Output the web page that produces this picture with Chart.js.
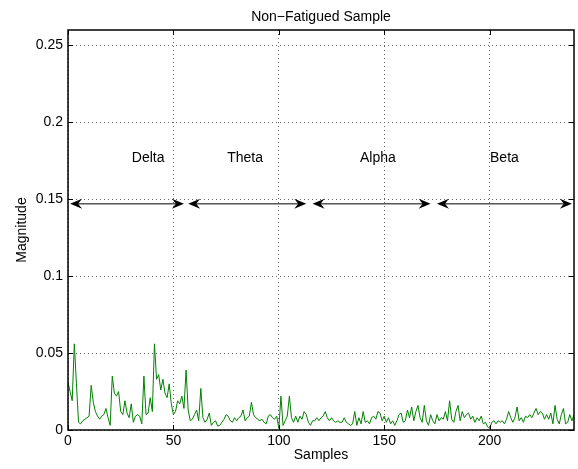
<!DOCTYPE html>
<html>
<head>
<meta charset="utf-8">
<title>Non-Fatigued Sample</title>
<script src="https://cdn.jsdelivr.net/npm/chart.js@4.4.0/dist/chart.umd.min.js"></script>
<style>
html, body { margin: 0; padding: 0; background: #fff; }
#wrap { position: relative; width: 578px; height: 469px; }
</style>
</head>
<body>
<div id="wrap"><canvas id="myChart" width="578" height="469"></canvas></div>
<script>
// magnitude per sample (sample 0 .. 240)
const samples = [
	0.031, 0.025, 0.019, 0.056, 0.030, 0.005, 0.004, 0.006, 0.007, 0.008,
	0.009, 0.029, 0.018, 0.012, 0.009, 0.007, 0.009, 0.010, 0.014, 0.008,
	0.003, 0.035, 0.024, 0.022, 0.025, 0.012, 0.010, 0.019, 0.011, 0.008,
	0.017, 0.005, 0.009, 0.010, 0.009, 0.004, 0.035, 0.010, 0.011, 0.021,
	0.012, 0.056, 0.033, 0.036, 0.026, 0.033, 0.024, 0.021, 0.030, 0.017,
	0.010, 0.012, 0.019, 0.017, 0.022, 0.014, 0.039, 0.013, 0.006, 0.007,
	0.010, 0.013, 0.006, 0.027, 0.008, 0.005, 0.007, 0.011, 0.003, 0.005,
	0.006, 0.0025, 0.003, 0.005, 0.007, 0.010, 0.009, 0.006, 0.005, 0.008,
	0.006, 0.008, 0.009, 0.013, 0.006, 0.008, 0.009, 0.018, 0.010, 0.008,
	0.007, 0.006, 0.007, 0.005, 0.004, 0.009, 0.010, 0.008, 0.007, 0.009,
	0.001, 0.022, 0.003, 0.006, 0.009, 0.022, 0.008, 0.005, 0.009, 0.005,
	0.009, 0.007, 0.012, 0.010, 0.005, 0.003, 0.006, 0.006, 0.008, 0.006,
	0.008, 0.009, 0.012, 0.008, 0.006, 0.008, 0.006, 0.005, 0.006, 0.005,
	0.005, 0.008, 0.005, 0.004, 0.003, 0.004, 0.012, 0.003, 0.008, 0.004,
	0.012, 0.005, 0.006, 0.004, 0.008, 0.009, 0.007, 0.012, 0.011, 0.006,
	0.009, 0.005, 0.008, 0.004, 0.006, 0.003, 0.006, 0.010, 0.011, 0.005,
	0.006, 0.013, 0.008, 0.015, 0.006, 0.012, 0.016, 0.008, 0.005, 0.016,
	0.006, 0.003, 0.010, 0.006, 0.004, 0.010, 0.006, 0.008, 0.007, 0.012,
	0.006, 0.019, 0.007, 0.005, 0.012, 0.016, 0.006, 0.012, 0.008, 0.010,
	0.011, 0.007, 0.009, 0.005, 0.008, 0.006, 0.009, 0.004, 0.005, 0.002,
	0.001, 0.005, 0.006, 0.004, 0.006, 0.005, 0.006, 0.004, 0.007, 0.012,
	0.008, 0.005, 0.008, 0.015, 0.006, 0.008, 0.005, 0.009, 0.008, 0.010,
	0.008, 0.011, 0.014, 0.010, 0.012, 0.011, 0.007, 0.010, 0.007, 0.011,
	0.004, 0.016, 0.007, 0.004, 0.010, 0.014, 0.004, 0.005, 0.010, 0.006,
	0.010
];
const xTicks = [0, 50, 100, 150, 200];
const yTicks = [0, 0.05, 0.1, 0.15, 0.2, 0.25];

// frequency bands marked with double arrows
const bandNames = ['Delta', 'Theta', 'Alpha', 'Beta'];
const bandStart = [1, 57, 116, 175];
const bandEnd = [55, 113, 172, 239];
const bandLabelX = [38, 84, 147, 207];
const arrowY = 0.147;
const labelY = 0.177;

var fontFam = '"Liberation Sans", Arial, Helvetica, sans-serif';
var titleText = 'Non\u2212Fatigued Sample';

// matlab style box with inward ticks, title centred over the axes
var boxPlugin = {
	id: 'boxPlugin',
	afterDatasetsDraw: function(chart) {
		var ctx = chart.ctx;
		var a = chart.chartArea;
		var xs = chart.scales.x, ys = chart.scales.y;
		var tl = 5;
		ctx.save();
		ctx.strokeStyle = '#000';
		ctx.lineWidth = 1;
		ctx.setLineDash([]);
		ctx.beginPath();
		xTicks.forEach(function(v) {
			var px = Math.round(xs.getPixelForValue(v)) + 0.5;
			ctx.moveTo(px, a.bottom); ctx.lineTo(px, a.bottom - tl);
			ctx.moveTo(px, a.top); ctx.lineTo(px, a.top + tl);
		});
		yTicks.forEach(function(v) {
			var py = Math.round(ys.getPixelForValue(v)) + 0.5;
			ctx.moveTo(a.left, py); ctx.lineTo(a.left + tl, py);
			ctx.moveTo(a.right, py); ctx.lineTo(a.right - tl, py);
		});
		ctx.stroke();
		ctx.lineWidth = 1.5;
		ctx.strokeRect(a.left, a.top, a.right - a.left, a.bottom - a.top);

		ctx.fillStyle = '#000';
		ctx.font = '14px ' + fontFam;
		ctx.textAlign = 'center';
		ctx.textBaseline = 'alphabetic';
		ctx.fillText(titleText, (a.left + a.right) / 2, 21);
		ctx.restore();
	}
};

function arrowHead(ctx, x, y, dir) {
	// dir = -1 points left, 1 points right
	var len = 12, half = 5, back = 4;
	ctx.beginPath();
	ctx.moveTo(x, y);
	ctx.lineTo(x - dir * len, y - half);
	ctx.lineTo(x - dir * (len - back), y);
	ctx.lineTo(x - dir * len, y + half);
	ctx.closePath();
	ctx.fill();
}

var bandPlugin = {
	id: 'bandPlugin',
	afterDatasetsDraw: function(chart) {
		var ctx = chart.ctx;
		var xs = chart.scales.x, ys = chart.scales.y;
		var y = ys.getPixelForValue(arrowY);
		var ty = ys.getPixelForValue(labelY);
		ctx.save();
		ctx.strokeStyle = '#000';
		ctx.fillStyle = '#000';
		ctx.lineWidth = 1;
		for (var i = 0; i < bandNames.length; i++) {
			var x1 = xs.getPixelForValue(bandStart[i]);
			var x2 = xs.getPixelForValue(bandEnd[i]);
			ctx.beginPath();
			ctx.moveTo(x1 + 4, y);
			ctx.lineTo(x2 - 4, y);
			ctx.stroke();
			arrowHead(ctx, x1, y, -1);
			arrowHead(ctx, x2, y, 1);
			ctx.font = '14px ' + fontFam;
			ctx.textAlign = 'center';
			ctx.textBaseline = 'middle';
			ctx.fillText(bandNames[i], xs.getPixelForValue(bandLabelX[i]), ty);
		}
		ctx.restore();
	}
};

var points = samples.map(function(v, i) { return { x: i, y: v }; });

var ctx = document.getElementById('myChart').getContext('2d');
var chart = new Chart(ctx, {
	type: 'line',
	data: {
		datasets: [{
			data: points,
			borderColor: '#008000',
			borderWidth: 1,
			pointRadius: 0,
			tension: 0,
			fill: false
		}]
	},
	options: {
		responsive: false,
		animation: false,
		devicePixelRatio: 1,
		layout: { padding: { left: 0, right: 4, top: 30, bottom: 0 } },
		plugins: {
			legend: { display: false },
			tooltip: { enabled: false },
			title: { display: false }
		},
		scales: {
			x: {
				type: 'linear',
				min: 0,
				max: 240,
				afterFit: function(s) { s.height = 39; },
				afterBuildTicks: function(s) { s.ticks = xTicks.map(function(v) { return { value: v }; }); },
				ticks: {
					color: '#000',
					padding: 3,
					maxRotation: 0,
					font: { family: fontFam, size: 14 },
					callback: function(v) { return String(v); }
				},
				grid: { color: '#666', lineWidth: 1, drawTicks: false },
				border: { display: false, dash: [1, 3] },
				title: {
					display: true,
					text: 'Samples',
					color: '#000',
					font: { family: fontFam, size: 14 },
					padding: { top: 0, bottom: 5.6 }
				}
			},
			y: {
				type: 'linear',
				min: 0,
				max: 0.26,
				afterFit: function(s) { s.width = 68; },
				afterBuildTicks: function(s) { s.ticks = yTicks.map(function(v) { return { value: v }; }); },
				ticks: {
					color: '#000',
					padding: 5,
					font: { family: fontFam, size: 14 },
					callback: function(v) { return String(v); }
				},
				grid: { color: '#666', lineWidth: 1, drawTicks: false },
				border: { display: false, dash: [1, 3] },
				title: {
					display: true,
					text: 'Magnitude',
					color: '#000',
					font: { family: fontFam, size: 14 },
					padding: { top: 13.6, bottom: 0 }
				}
			}
		}
	},
	plugins: [boxPlugin, bandPlugin]
});
</script>
</body>
</html>
